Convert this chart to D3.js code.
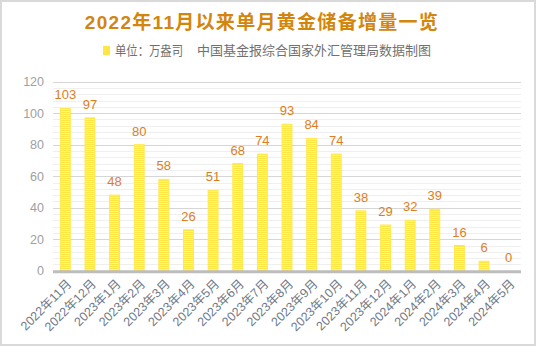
<!DOCTYPE html>
<html><head><meta charset="utf-8">
<script src="https://cdn.jsdelivr.net/npm/d3@7"></script>
<style>
body{margin:0;background:#fff;}
svg{display:block;}
</style></head>
<body><svg id="c" width="536" height="346"></svg>
<script>
const categories = ["2022年11月","2022年12月","2023年1月","2023年2月","2023年3月","2023年4月","2023年5月","2023年6月","2023年7月","2023年8月","2023年9月","2023年10月","2023年11月","2023年12月","2024年1月","2024年2月","2024年3月","2024年4月","2024年5月"];
const values = [103,97,48,80,58,26,51,68,74,93,84,74,38,29,32,39,16,6,0];
const yTicks = [0,20,40,60,80,100,120];
const title = "2022年11月以来单月黄金储备增量一览";
const legendUnit = "单位：万盎司";
const legendSource = "中国基金报综合国家外汇管理局数据制图";

const svg = d3.select("#c");
const W = 536, H = 346;
const m = {l:53, r:15, t:81.7, b:75.3};
const font = "Arial, 'Liberation Sans', 'Noto Sans CJK SC', sans-serif";

// border
svg.append("rect").attr("x",1).attr("y",1).attr("width",W-2).attr("height",H-2)
  .attr("fill","#fff").attr("stroke","#d9d9d9").attr("stroke-width",2);

// pattern
const defs = svg.append("defs");
const pat = defs.append("pattern").attr("id","stripe").attr("patternUnits","userSpaceOnUse")
  .attr("width",4).attr("height",2);
pat.append("rect").attr("width",4).attr("height",2).attr("fill","#FFF39A");
pat.append("rect").attr("width",4).attr("height",1).attr("fill","#FFE640");

const x = d3.scaleBand().domain(categories).range([m.l, W-m.r]).paddingInner(0.6).paddingOuter(0.3);
const y = d3.scaleLinear().domain([0,120]).range([H-m.b, m.t]);

// grid minor
const g = svg.append("g");
g.selectAll("line.minor").data(d3.range(0,121,4).filter(v=>v%20!==0)).join("line")
  .attr("x1",m.l).attr("x2",W-m.r).attr("y1",d=>Math.round(y(d))+0.5).attr("y2",d=>Math.round(y(d))+0.5)
  .attr("stroke","#efefef").attr("stroke-width",1);
g.selectAll("line.major").data(yTicks.slice(1)).join("line")
  .attr("x1",m.l).attr("x2",W-m.r).attr("y1",d=>Math.round(y(d))+0.5).attr("y2",d=>Math.round(y(d))+0.5)
  .attr("stroke","#d6d6d6").attr("stroke-width",1);

// y axis labels
const ya = svg.append("g").attr("transform",`translate(${m.l-9},0)`)
  .call(d3.axisLeft(y).tickValues(yTicks).tickSize(0).tickPadding(0));
ya.select(".domain").remove();
ya.selectAll("text").attr("font-family",font).attr("font-size",12.5).attr("fill","#a0a0a0");

// bars
svg.selectAll("rect.bar").data(values).join("rect").attr("class","bar")
  .attr("x",(d,i)=>x(categories[i])).attr("width",x.bandwidth())
  .attr("y",d=>y(d)).attr("height",d=>y(0)-y(d))
  .attr("fill","url(#stripe)").attr("stroke","#FFE84D").attr("stroke-width",1);

// value labels
svg.selectAll("text.val").data(values).join("text")
  .attr("x",(d,i)=>x(categories[i])+x.bandwidth()/2).attr("y",d=>y(d)-9)
  .attr("text-anchor","middle").attr("font-family",font).attr("font-size",13)
  .attr("fill","#DC7E1E").text(d=>d);

// baseline axis
const xa = svg.append("g").attr("transform",`translate(0,${y(0)})`)
  .call(d3.axisBottom(x).tickSize(0).tickSizeOuter(0).tickPadding(0));
xa.select(".domain").attr("stroke","#bdbdbd").attr("stroke-width",3).attr("d",`M${m.l},1H${W-m.r}`);
xa.selectAll("text").attr("font-family",font).attr("font-size",12.5).attr("fill","#707a88")
  .attr("text-anchor","end").attr("dy",null)
  .attr("transform","translate(7,14) rotate(-45)");

// title
svg.append("text").attr("x",W/2-6).attr("y",29).attr("text-anchor","middle")
  .attr("font-family",font).attr("font-size",19).attr("font-weight","bold")
  .attr("letter-spacing","1.3px").attr("fill","#D4850C").text(title);

// legend
svg.append("rect").attr("x",103).attr("y",46).attr("width",7).attr("height",9).attr("fill","#FFE640");
svg.append("text").attr("x",115).attr("y",55).attr("font-family",font).attr("font-size",13)
  .attr("textLength",68).attr("lengthAdjust","spacingAndGlyphs")
  .attr("fill","#707070").text(legendUnit);
svg.append("text").attr("x",197).attr("y",55).attr("font-family",font).attr("font-size",13)
  .attr("fill","#707070").text(legendSource);
</script></body></html>
